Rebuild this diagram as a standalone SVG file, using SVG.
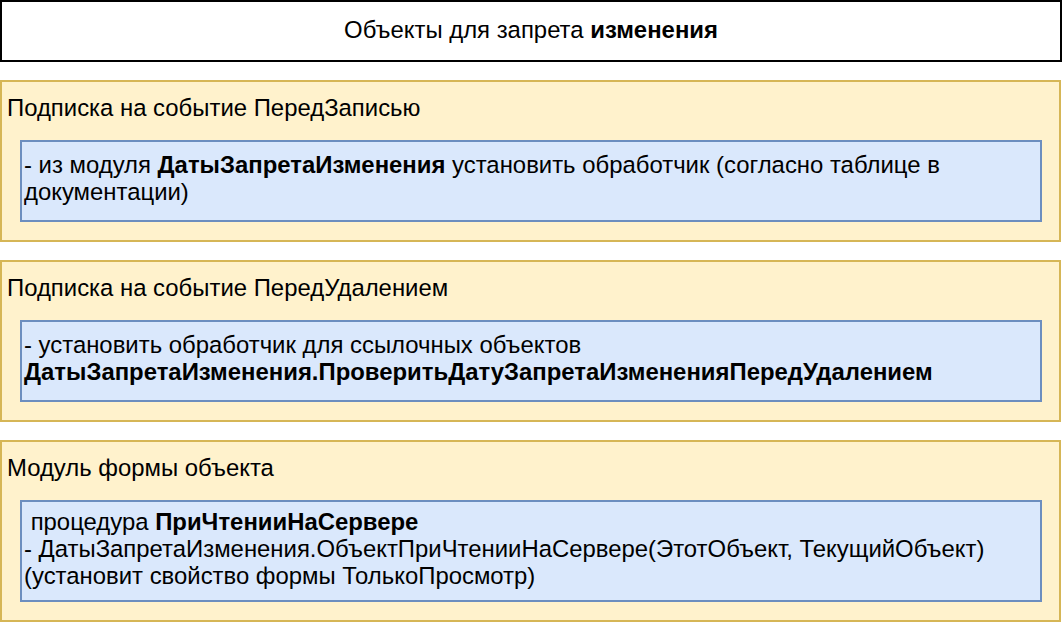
<svg xmlns="http://www.w3.org/2000/svg" width="1062" height="622" viewBox="0 0 1062 622">
<style>
text{font-family:"Liberation Sans",Arial,sans-serif;font-size:23.9px;fill:#000}
.b{font-weight:bold}
.outer{fill:#fff2cc;stroke:#d6b656;stroke-width:2}
.inner{fill:#dae8fc;stroke:#6c8ebf;stroke-width:2}
.title{fill:#fff;stroke:#000;stroke-width:2}
</style>
<g id="title">
<rect class="title" x="1" y="1" width="1060" height="60"/>
<text x="531" y="38" text-anchor="middle">Объекты для запрета <tspan class="b">изменения</tspan></text>
</g>
<g id="before-write">
<rect class="outer" x="1" y="81" width="1059" height="160"/>
<text x="7" y="116">Подписка на событие ПередЗаписью</text>
</g>
<g id="before-write-handler">
<rect class="inner" x="21" y="141" width="1020" height="80"/>
<text x="24" y="173">- из модуля <tspan class="b">ДатыЗапретаИзменения</tspan> установить обработчик (согласно таблице в</text>
<text x="24" y="200">документации)</text>
</g>
<g id="before-delete">
<rect class="outer" x="1" y="261" width="1059" height="160"/>
<text x="7" y="296">Подписка на событие ПередУдалением</text>
</g>
<g id="before-delete-handler">
<rect class="inner" x="21" y="321" width="1020" height="80"/>
<text x="24" y="353">- установить обработчик для ссылочных объектов</text>
<text x="24" y="380" class="b">ДатыЗапретаИзменения.ПроверитьДатуЗапретаИзмененияПередУдалением</text>
</g>
<g id="form-module">
<rect class="outer" x="1" y="441" width="1059" height="180"/>
<text x="7" y="476">Модуль формы объекта</text>
</g>
<g id="form-module-handler">
<rect class="inner" x="21" y="501" width="1020" height="100"/>
<text x="24" y="530" xml:space="preserve"> процедура <tspan class="b">ПриЧтенииНаСервере</tspan></text>
<text x="24" y="557">- ДатыЗапретаИзменения.ОбъектПриЧтенииНаСервере(ЭтотОбъект, ТекущийОбъект)</text>
<text x="24" y="584">(установит свойство формы ТолькоПросмотр)</text>
</g>
<g id="connectors"/>
</svg>
